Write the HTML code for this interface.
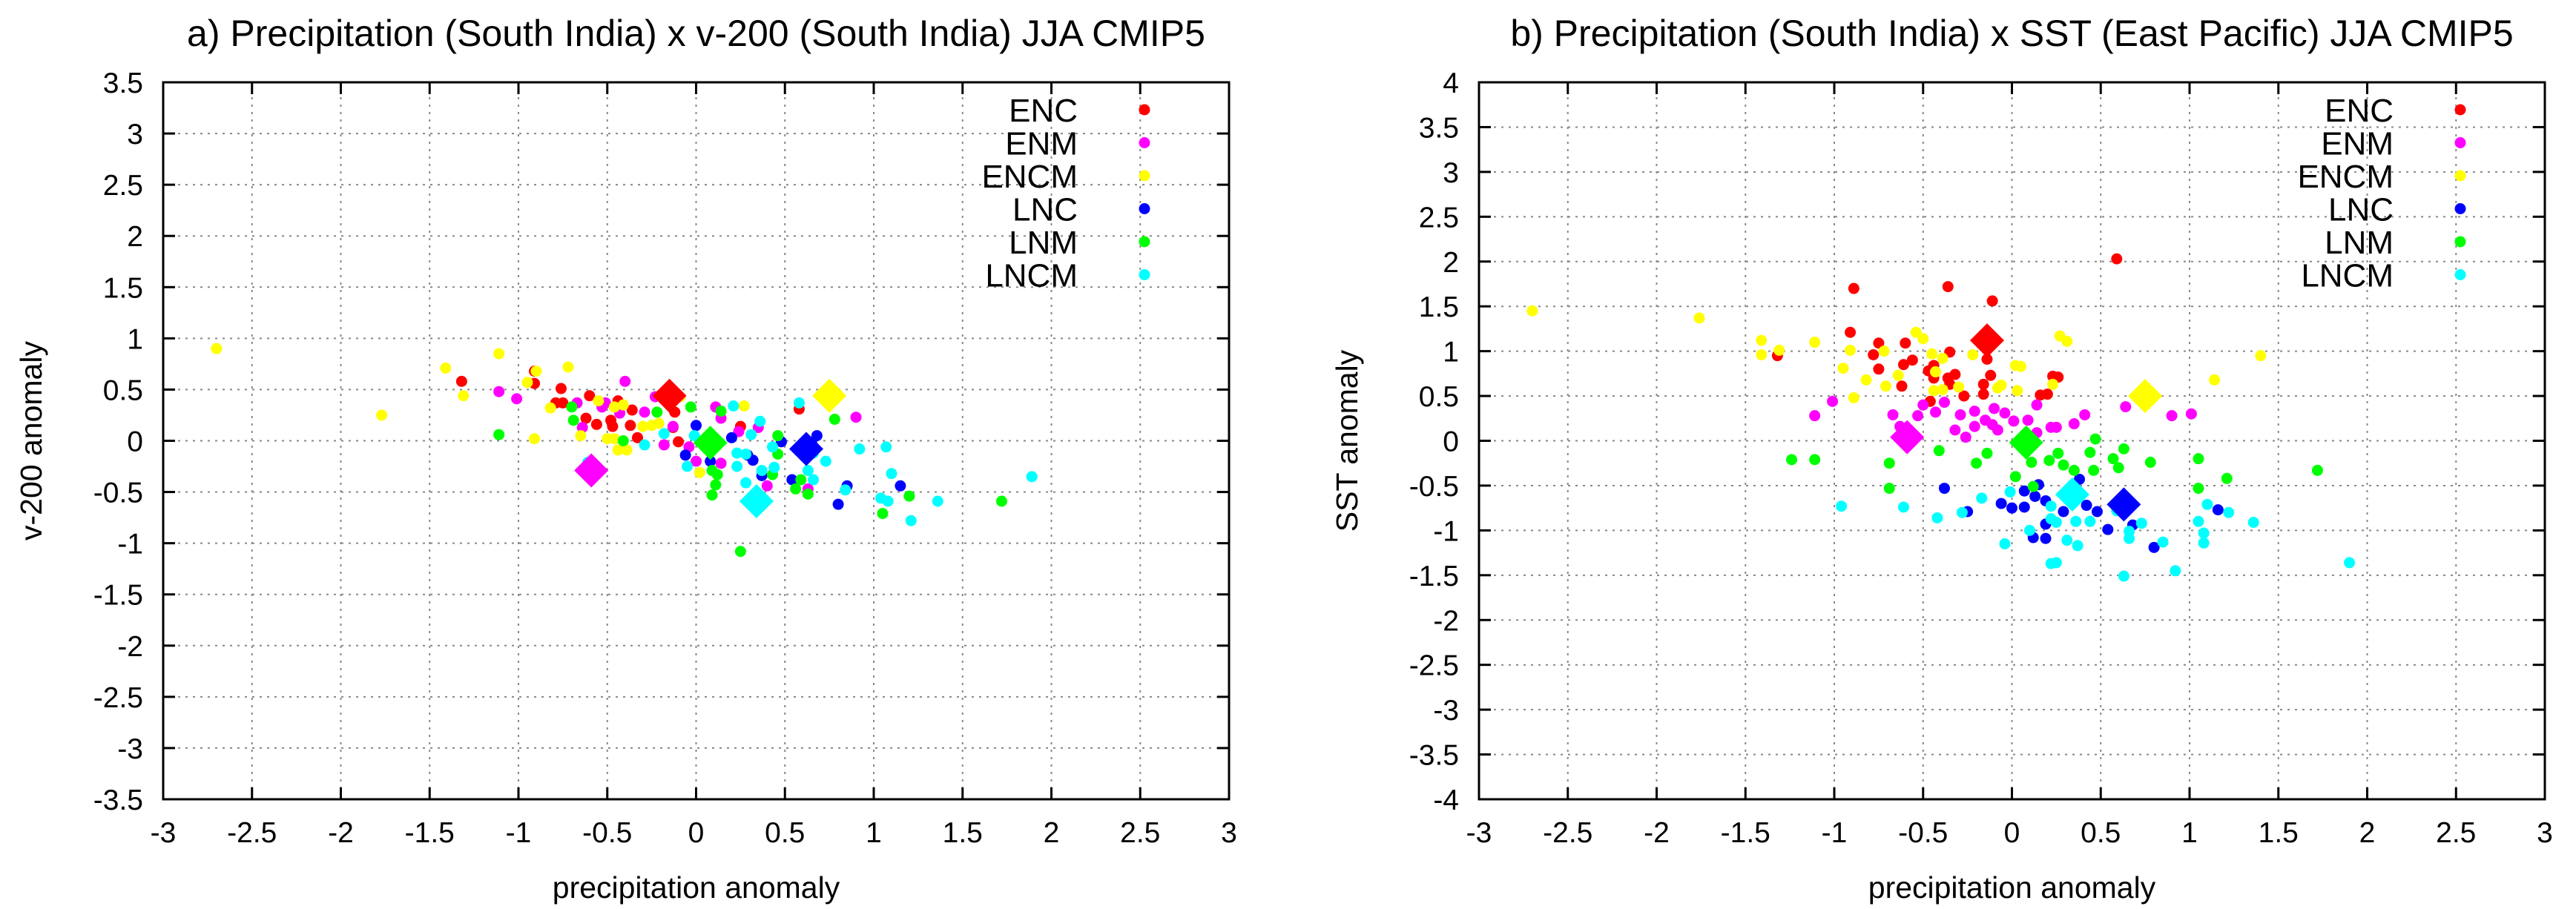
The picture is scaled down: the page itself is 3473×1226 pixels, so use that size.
<!DOCTYPE html>
<html><head><meta charset="utf-8">
<style>
html,body{margin:0;padding:0;background:#fff;}
svg{display:block;}
text{font-family:"Liberation Sans",Arial,sans-serif;fill:#000;}
</style></head>
<body>
<svg id="chart" width="3473" height="1226" viewBox="0 0 3473 1226" xmlns="http://www.w3.org/2000/svg"></svg>
<script>
const seriesNames = ["ENC","ENM","ENCM","LNC","LNM","LNCM"];
const seriesColors = ["#ff0000","#ff00ff","#ffff00","#0000ff","#00ff00","#00ffff"];
const xTicks = [-3,-2.5,-2,-1.5,-1,-0.5,0,0.5,1,1.5,2,2.5,3];
const yTicksA = [-3.5,-3,-2.5,-2,-1.5,-1,-0.5,0,0.5,1,1.5,2,2.5,3,3.5];
const yTicksB = [-4,-3.5,-3,-2.5,-2,-1.5,-1,-0.5,0,0.5,1,1.5,2,2.5,3,3.5,4];

// Panel a points
const a_ENC = [[-1.32,0.58],[-0.91,0.68],[-0.91,0.56],[-0.76,0.51],[-0.79,0.37],[-0.75,0.37],[-0.62,0.22],[-0.56,0.16],[-0.60,0.44],[-0.44,0.39],[-0.48,0.20],[-0.47,0.14],[-0.36,0.30],[-0.37,0.15],[-0.33,0.03],[-0.12,0.28],[-0.13,0.13],[-0.10,-0.01],[0.25,0.14],[0.58,0.31]];
const a_ENM = [[-1.11,0.48],[-1.01,0.41],[-0.67,0.37],[-0.64,0.13],[-0.40,0.58],[-0.51,0.37],[-0.53,0.33],[-0.43,0.27],[-0.29,0.28],[-0.23,0.43],[-0.13,0.14],[-0.18,-0.04],[-0.04,-0.06],[0.0,-0.20],[0.11,0.33],[0.14,0.22],[0.24,0.09],[0.35,0.13],[0.14,-0.22],[0.40,-0.44],[0.63,-0.47],[0.90,0.23]];
const a_ENCM = [[-2.7,0.9],[-1.77,0.25],[-1.41,0.71],[-1.31,0.44],[-1.11,0.85],[-0.90,0.68],[-0.95,0.57],[-0.91,0.02],[-0.72,0.72],[-0.82,0.32],[-0.65,0.05],[-0.55,0.39],[-0.46,0.33],[-0.41,0.35],[-0.50,0.02],[-0.46,0.02],[-0.44,-0.09],[-0.39,-0.09],[-0.30,0.14],[-0.25,0.15],[-0.21,0.17],[-0.09,0.43],[0.02,-0.31],[0.27,0.34]];
const a_LNC = [[0.0,0.15],[-0.06,-0.14],[0.20,0.03],[0.48,-0.01],[0.68,0.05],[0.32,-0.19],[0.29,-0.14],[0.08,-0.20],[0.37,-0.34],[0.54,-0.38],[0.85,-0.44],[0.80,-0.62],[1.15,-0.44],[0.60,-0.05],[0.65,-0.02]];
const a_LNM = [[-1.11,0.06],[-0.70,0.33],[-0.69,0.20],[-0.41,0.0],[-0.22,0.28],[-0.15,0.41],[-0.03,0.33],[0.03,-0.02],[0.14,0.29],[0.46,0.05],[0.46,-0.13],[0.09,-0.29],[0.12,-0.33],[0.11,-0.43],[0.09,-0.53],[0.43,-0.33],[0.59,-0.38],[0.56,-0.47],[0.63,-0.52],[0.25,-1.08],[0.78,0.21],[1.20,-0.54],[1.05,-0.71],[1.72,-0.59]];
const a_LNCM = [[-0.61,-0.21],[-0.29,-0.04],[-0.18,0.07],[-0.01,0.05],[-0.05,-0.25],[0.09,0.02],[0.21,0.34],[0.36,0.19],[0.31,0.06],[0.43,-0.06],[0.66,-0.12],[0.73,-0.20],[0.92,-0.08],[1.07,-0.06],[0.58,0.37],[0.23,-0.12],[0.28,-0.13],[0.23,-0.25],[0.37,-0.29],[0.44,-0.26],[0.28,-0.41],[0.63,-0.29],[0.66,-0.38],[0.84,-0.48],[1.10,-0.32],[1.04,-0.56],[1.08,-0.59],[1.21,-0.78],[1.36,-0.59],[1.89,-0.35]];
const a_meanX = [-0.15,-0.59,0.75,0.62,0.08,0.34];
const a_meanY = [0.44,-0.29,0.44,-0.08,-0.02,-0.59];

// Panel b points
const b_ENC = [[-0.89,1.70],[-0.36,1.72],[-0.11,1.56],[0.59,2.03],[-1.32,0.95],[-0.91,1.21],[-0.75,1.09],[-0.78,0.96],[-0.60,1.09],[-0.56,0.90],[-0.61,0.85],[-0.75,0.80],[-0.62,0.61],[-0.35,0.99],[-0.44,0.84],[-0.47,0.78],[-0.44,0.70],[-0.36,0.70],[-0.32,0.74],[-0.35,0.63],[-0.27,0.50],[-0.14,0.91],[-0.12,0.73],[-0.16,0.63],[-0.16,0.52],[0.16,0.51],[0.20,0.52],[0.23,0.72],[0.26,0.71],[-0.46,0.44]];
const b_ENM = [[-1.01,0.44],[-1.11,0.28],[-0.67,0.29],[-0.53,0.28],[-0.50,0.40],[-0.43,0.32],[-0.38,0.43],[-0.63,0.16],[-0.29,0.29],[-0.21,0.33],[-0.10,0.36],[-0.04,0.31],[0.01,0.22],[-0.32,0.12],[-0.26,0.04],[-0.21,0.16],[-0.15,0.23],[-0.08,0.12],[-0.11,0.18],[0.09,0.23],[0.14,0.09],[0.22,0.15],[0.14,0.40],[0.64,0.38],[0.41,0.29],[0.35,0.19],[0.25,0.15],[0.90,0.28],[1.01,0.30]];
const b_ENCM = [[-2.7,1.45],[-1.76,1.37],[-1.41,1.12],[-1.41,0.96],[-1.31,1.01],[-1.11,1.10],[-0.91,1.01],[-0.95,0.81],[-0.72,1.0],[-0.82,0.68],[-0.64,0.73],[-0.71,0.61],[-0.89,0.48],[-0.54,1.21],[-0.50,1.14],[-0.45,0.97],[-0.39,0.92],[-0.43,0.77],[-0.44,0.56],[-0.39,0.57],[-0.30,0.60],[-0.22,0.96],[-0.06,0.62],[-0.08,0.59],[0.02,0.84],[0.05,0.83],[0.03,0.56],[0.23,0.63],[0.27,1.17],[0.31,1.11],[1.40,0.95],[1.14,0.68]];
const b_LNC = [[-0.38,-0.53],[-0.25,-0.79],[-0.06,-0.70],[0.0,-0.75],[0.07,-0.74],[0.07,-0.56],[0.15,-0.49],[0.13,-0.62],[0.19,-0.67],[0.19,-0.93],[0.12,-1.08],[0.19,-1.09],[0.38,-0.43],[0.42,-0.72],[0.48,-0.79],[0.29,-0.79],[0.54,-0.99],[0.68,-0.94],[0.80,-1.19],[1.16,-0.77]];
const b_LNM = [[-1.24,-0.21],[-1.11,-0.21],[-0.69,-0.25],[-0.69,-0.53],[-0.41,-0.11],[-0.20,-0.25],[-0.14,-0.14],[0.11,-0.24],[0.21,-0.22],[0.02,-0.40],[0.12,-0.51],[0.47,0.02],[0.44,-0.13],[0.26,-0.14],[0.29,-0.27],[0.35,-0.33],[0.46,-0.33],[0.63,-0.09],[0.57,-0.20],[0.60,-0.30],[0.78,-0.24],[1.05,-0.20],[1.05,-0.53],[1.21,-0.42],[1.72,-0.33]];
const b_LNCM = [[-0.96,-0.73],[-0.61,-0.74],[-0.42,-0.86],[-0.28,-0.80],[-0.17,-0.64],[-0.01,-0.57],[0.22,-0.73],[0.22,-0.87],[0.10,-1.0],[-0.04,-1.15],[0.22,-1.37],[0.59,-0.78],[0.36,-0.90],[0.44,-0.90],[0.25,-0.91],[0.73,-0.92],[0.66,-1.01],[0.66,-1.09],[0.31,-1.11],[0.37,-1.17],[0.85,-1.13],[0.63,-1.51],[0.92,-1.45],[0.25,-1.36],[1.10,-0.71],[1.22,-0.80],[1.05,-0.90],[1.08,-1.03],[1.08,-1.14],[1.36,-0.91],[1.90,-1.36]];
const b_meanX = [-0.14,-0.59,0.75,0.63,0.08,0.34];
const b_meanY = [1.12,0.04,0.50,-0.71,-0.02,-0.60];

const NS = "http://www.w3.org/2000/svg";
const svg = document.getElementById("chart");
function mk(tag, attrs, parent){
  const e = document.createElementNS(NS, tag);
  for (const k in attrs) e.setAttribute(k, attrs[k]);
  (parent||svg).appendChild(e);
  return e;
}

function drawPanel(cfg){
  const g = mk("g", {});
  
  
  const L = cfg.left, R = cfg.left + 1437, T = 111, B = 1078;
  const xs = v => L + (v - (-3)) / 6 * (R - L);
  const ys = v => T + (cfg.ymax - v) / (cfg.ymax - cfg.ymin) * (B - T);

  // title
  const title = mk("text", {x:(L+R)/2, y:62, "font-size":50, "text-anchor":"middle"}, g);
  title.textContent = cfg.title;
  
  

  // grid
  const grid = mk("g", {stroke:"#888", "stroke-width":2, "stroke-dasharray":"3,7"}, g);
  
  
  xTicks.forEach(v => { if (v > -3 && v < 3) mk("line", {x1:xs(v), x2:xs(v), y1:T, y2:B}, grid); });
  cfg.yTicks.forEach(v => { if (v > cfg.ymin && v < cfg.ymax) mk("line", {x1:L, x2:R, y1:ys(v), y2:ys(v)}, grid); });

  // ticks and labels
  const tk = mk("g", {stroke:"#000", "stroke-width":3}, g);
  
  
  xTicks.forEach(v => {
    mk("line", {x1:xs(v), x2:xs(v), y1:B, y2:B-16}, tk);
    mk("line", {x1:xs(v), x2:xs(v), y1:T, y2:T+16}, tk);
    const t = mk("text", {x:xs(v), y:1136, "font-size":39, "text-anchor":"middle"}, g);
    t.textContent = String(v);
    
    
  });
  cfg.yTicks.forEach(v => {
    mk("line", {x1:L, x2:L+16, y1:ys(v), y2:ys(v)}, tk);
    mk("line", {x1:R, x2:R-16, y1:ys(v), y2:ys(v)}, tk);
    const t = mk("text", {x:L-27, y:ys(v)+14, "font-size":39, "text-anchor":"end"}, g);
    t.textContent = String(v);
    
    
  });

  // axis titles
  const xt = mk("text", {x:(L+R)/2, y:1211, "font-size":41, "text-anchor":"middle"}, g);
  xt.textContent = "precipitation anomaly";
  
  
  const cy = (T+B)/2;
  const yt = mk("text", {x:L-164, y:cy, "font-size":41, "text-anchor":"middle", transform:"rotate(-90 "+(L-164)+" "+cy+")"}, g);
  yt.textContent = cfg.ylabel;
  
  

  // points
  cfg.series.forEach((pts, si) => {
    const sg = mk("g", {fill:seriesColors[si]}, g);
    
    
    pts.forEach(p => {
      const c = mk("circle", {cx:xs(p[0]), cy:ys(p[1]), r:7.5}, sg);
      
      
    });
  });
  // mean diamonds
  cfg.meanX.forEach((mx, si) => {
    const px = xs(mx), py = ys(cfg.meanY[si]), h = 23;
    const d = mk("polygon", {points:[px,py-h, px+h,py, px,py+h, px-h,py].join(" "), fill:seriesColors[si]}, g);
    
    
  });

  // frame
  const fr = mk("rect", {x:L, y:T, width:R-L, height:B-T, fill:"none", stroke:"#000", "stroke-width":3}, g);
  
  

  // legend
  const lg = mk("g", {}, g);
  
  
  seriesNames.forEach((n, i) => {
    const yy = 148 + i * 44.5;
    const t = mk("text", {x:L+1233, y:yy+16, "font-size":44, "text-anchor":"end"}, lg);
    t.textContent = n;
    
    
    const c = mk("circle", {cx:L+1323, cy:yy, r:7.5, fill:seriesColors[i]}, lg);
    
    
  });
}

drawPanel({id:"panel-a", left:220, ymin:-3.5, ymax:3.5, yTicks:yTicksA,
  title:"a) Precipitation (South India) x v-200 (South India) JJA CMIP5", ylabel:"v-200 anomaly",
  series:[a_ENC,a_ENM,a_ENCM,a_LNC,a_LNM,a_LNCM], meanX:a_meanX, meanY:a_meanY});
drawPanel({id:"panel-b", left:1994, ymin:-4, ymax:4, yTicks:yTicksB,
  title:"b) Precipitation (South India) x SST (East Pacific) JJA CMIP5", ylabel:"SST anomaly",
  series:[b_ENC,b_ENM,b_ENCM,b_LNC,b_LNM,b_LNCM], meanX:b_meanX, meanY:b_meanY});
</script>
</body></html>
